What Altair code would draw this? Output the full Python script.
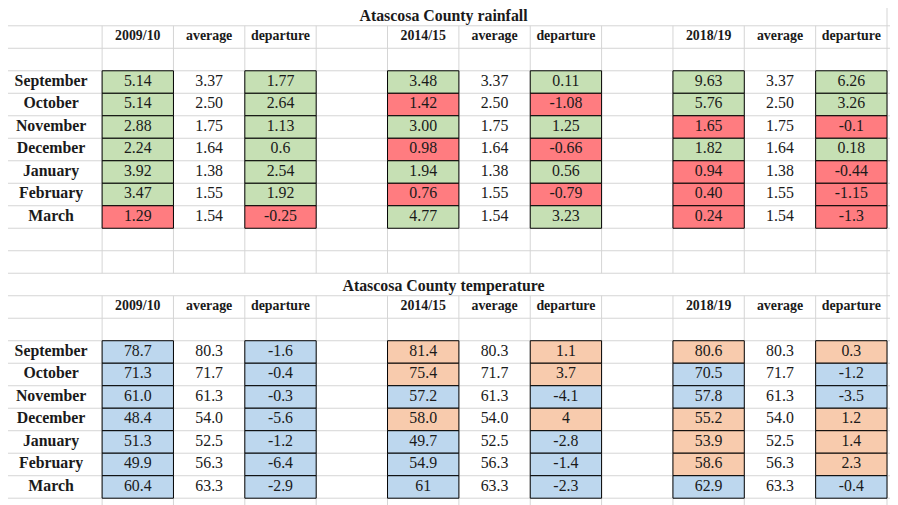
import altair as alt
import pandas as pd

# ---------------- data read from the spreadsheet ----------------
months = ["September", "October", "November", "December", "January", "February", "March"]
seasons = ["2009/10", "2014/15", "2018/19"]

rain_title = "Atascosa County rainfall"
rain_avg = ["3.37", "2.50", "1.75", "1.64", "1.38", "1.55", "1.54"]
rain_0910 = ["5.14", "5.14", "2.88", "2.24", "3.92", "3.47", "1.29"]
rain_dep_0910 = ["1.77", "2.64", "1.13", "0.6", "2.54", "1.92", "-0.25"]
rain_1415 = ["3.48", "1.42", "3.00", "0.98", "1.94", "0.76", "4.77"]
rain_dep_1415 = ["0.11", "-1.08", "1.25", "-0.66", "0.56", "-0.79", "3.23"]
rain_1819 = ["9.63", "5.76", "1.65", "1.82", "0.94", "0.40", "0.24"]
rain_dep_1819 = ["6.26", "3.26", "-0.1", "0.18", "-0.44", "-1.15", "-1.3"]

temp_title = "Atascosa County temperature"
temp_avg = ["80.3", "71.7", "61.3", "54.0", "52.5", "56.3", "63.3"]
temp_0910 = ["78.7", "71.3", "61.0", "48.4", "51.3", "49.9", "60.4"]
temp_dep_0910 = ["-1.6", "-0.4", "-0.3", "-5.6", "-1.2", "-6.4", "-2.9"]
temp_1415 = ["81.4", "75.4", "57.2", "58.0", "49.7", "54.9", "61"]
temp_dep_1415 = ["1.1", "3.7", "-4.1", "4", "-2.8", "-1.4", "-2.3"]
temp_1819 = ["80.6", "70.5", "57.8", "55.2", "53.9", "58.6", "62.9"]
temp_dep_1819 = ["0.3", "-1.2", "-3.5", "1.2", "1.4", "2.3", "-0.4"]

header_avg = "average"
header_dep = "departure"

# ---------------- spreadsheet grid (column / row indices) ----------------
FIRST_COL_LEFT = -1.43      # first (month) column is wider than the others
LAST_COL = 11
N_ROWS = 22
group_cols = [1, 5, 9]      # start column of each season group

blocks = [
    (0, rain_title, rain_avg,
     [(rain_0910, rain_dep_0910), (rain_1415, rain_dep_1415), (rain_1819, rain_dep_1819)],
     ("wet", "dry")),
    (12, temp_title, temp_avg,
     [(temp_0910, temp_dep_0910), (temp_1415, temp_dep_1415), (temp_1819, temp_dep_1819)],
     ("warm", "cool")),
]

texts = []
boxes = []
for r0, title, avg, series, (pos_cat, neg_cat) in blocks:
    texts.append(dict(x=(FIRST_COL_LEFT + LAST_COL) / 2, y=r0 + 0.5, label=title, kind="title"))
    for g, c0 in enumerate(group_cols):
        for j, lab in enumerate([seasons[g], header_avg, header_dep]):
            texts.append(dict(x=c0 + j - 0.5, y=r0 + 1.5, label=lab, kind="header"))
    for i, m in enumerate(months):
        r = r0 + 3 + i
        texts.append(dict(x=FIRST_COL_LEFT / 2, y=r + 0.5, label=m, kind="month"))
        for g, c0 in enumerate(group_cols):
            vals, deps = series[g]
            cat = pos_cat if float(deps[i]) >= 0 else neg_cat
            for j, v in enumerate([vals[i], avg[i], deps[i]]):
                texts.append(dict(x=c0 + j - 0.5, y=r + 0.5, label=v, kind="value"))
                if j != 1:
                    boxes.append(dict(x=c0 + j - 1, x2=c0 + j, y=r, y2=r + 1, cat=cat))

title_rows = [b[0] for b in blocks]
hlines = [dict(x=FIRST_COL_LEFT, x2=LAST_COL + 0.2, y=r) for r in range(N_ROWS + 1)]
vlines = []
for k in range(0, LAST_COL + 1):
    segs = [(title_rows[0] + 1, title_rows[1]), (title_rows[1] + 1, N_ROWS + 1)]
    if k == LAST_COL:
        segs = [(0, N_ROWS + 1)]
    for a, b in segs:
        vlines.append(dict(x=k, y=a, y2=b))

df_text = pd.DataFrame(texts)
df_box = pd.DataFrame(boxes)
df_h = pd.DataFrame(hlines)
df_v = pd.DataFrame(vlines)

# ---------------- scales ----------------
xs = alt.Scale(domain=[-1.319, 11.042], nice=False, zero=False)
ys = alt.Scale(domain=[0.308, 22.203], nice=False, zero=False, reverse=True)
X = lambda f: alt.X(f, type="quantitative", scale=xs, axis=None)
Y = lambda f: alt.Y(f, type="quantitative", scale=ys, axis=None)

GRID = "#D4D4D4"
FONT = "Liberation Serif"
INK = "#1a1a1a"

h = alt.Chart(df_h).mark_rule(color=GRID, strokeWidth=1).encode(
    x=X("x"), x2="x2", y=Y("y"))
v = alt.Chart(df_v).mark_rule(color=GRID, strokeWidth=1).encode(
    x=X("x"), y=Y("y"), y2="y2")
rects = alt.Chart(df_box).mark_rect(stroke="black", strokeWidth=1).encode(
    x=X("x"), x2="x2", y=Y("y"), y2="y2",
    fill=alt.Fill("cat:N", legend=None,
                  scale=alt.Scale(domain=["wet", "dry", "cool", "warm"],
                                  range=["#C6E0B4", "#FF7C80", "#BDD7EE", "#F8CBAD"])))

base_t = alt.Chart(df_text)
def text_layer(kind, size, weight, dy=0):
    return base_t.transform_filter(alt.datum.kind == kind).mark_text(
        font=FONT, fontSize=size, fontWeight=weight, color=INK,
        align="center", baseline="middle", dy=dy).encode(
        x=X("x"), y=Y("y"), text="label:N")

t_title = text_layer("title", 16, "bold", 2)
t_head = text_layer("header", 14, "bold", -1)
t_month = text_layer("month", 16, "bold", -1)
t_val = text_layer("value", 16, "normal", -1)

chart = alt.layer(h, v, rects, t_title, t_head, t_month, t_val).properties(
    width=890, height=497, padding=0, autosize=alt.AutoSizeParams(type="none"),
    background="white"
).configure_view(strokeWidth=0)

chart.save("out.html", embed_options={"renderer": "svg", "actions": False})
